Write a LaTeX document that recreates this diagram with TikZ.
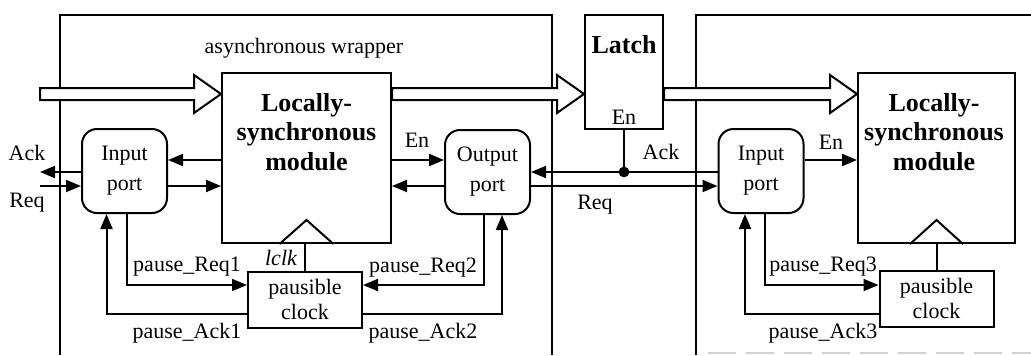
\documentclass[tikz,border=0pt]{standalone}
\usepackage{fontspec}
\setmainfont{Liberation Serif}
\usepackage{tikz}
\usetikzlibrary{calc,positioning,arrows.meta}

\newcommand{\lblfont}{\fontsize{11}{15}\selectfont}
\newcommand{\clkfont}{\fontsize{11}{12.5}\selectfont}
\newcommand{\modfont}{\fontsize{13}{14.75}\selectfont\bfseries}

\tikzset{
  wire/.style={line width=1pt},
  sig/.style={line width=1pt, -{Triangle[length=7.5pt,width=6pt]}},
  blk/.style={draw, line width=1pt, inner sep=0pt},
  portbox/.style={blk, rounded corners=7.5pt, minimum width=42.5pt, minimum height=42pt, align=center, font=\lblfont},
  clkbox/.style={blk, minimum width=57pt, minimum height=28pt, align=center, font=\clkfont},
  bus/.style={draw, line width=1pt, fill=white, line join=miter},
  lbl/.style={font=\lblfont, inner sep=1pt},
  modtxt/.style={font=\modfont, align=center, inner sep=0pt}
}

\begin{document}
\begin{tikzpicture}[x=0.5pt,y=-0.5pt]
\useasboundingbox (0,0) rectangle (1031,355);
% the two wrappers, open at the bottom
\draw[wire] (60,355) -- (60,15) -- (552,15) -- (552,355);
\draw[wire] (696,355) -- (696,15) -- (1031,15);
\draw[gray!35, line width=0.7pt, dash pattern=on 14pt off 5pt] (708,353) -- (1031,353);
\node[lbl] (wraptxt) at (304,48) {asynchronous wrapper};

% blocks
\node[blk, minimum width=84.5pt, minimum height=85pt] (lsmL) at (306.5,158) {};
\node[blk, minimum width=78.5pt, minimum height=85pt] (lsmR) at (936.5,158) {};
\node[modtxt] (lsmLt) at (306.5,132) {Locally-\\synchronous\\module};
\node[modtxt] (lsmRt) at (934,132) {Locally-\\synchronous\\module};
\node[blk, minimum width=39pt, minimum height=57pt] (latch) at (624,72) {};
\node[modtxt] (latchtxt) at (624,45) {Latch};
\node[lbl] (latchen) at (624,117) {En};
\node[portbox] (inL) at (124.5,171) {Input\\port};
\node[portbox] (outL) at (487.5,172) {Output\\port};
\node[portbox] (inR) at (761,171) {Input\\port};
\node[clkbox] (clkL) at (305,299.5) {pausible\\clock};
\node[clkbox] (clkR) at (936.5,298.5) {pausible\\clock};

% signal levels
\coordinate (yBus) at (0,94);
\coordinate (yUp) at (0,160);
\coordinate (yAck) at (0,172);
\coordinate (yReq) at (0,186);
\coordinate (yPR) at (0,285);
\coordinate (yPA) at (0,314);

% data buses
\coordinate (b1s) at (40,94);
\coordinate (b1e) at (lsmL.west |- yBus);
\coordinate (b2s) at (lsmL.east |- yBus);
\coordinate (b2e) at (latch.west |- yBus);
\coordinate (b3s) at (latch.east |- yBus);
\coordinate (b3e) at (lsmR.west |- yBus);
\foreach \s/\e in {b1s/b1e, b2s/b2e, b3s/b3e}{
  \draw[bus] ($(\s)+(0,-6)$) -- ($(\e)+(-27,-6)$) -- ($(\e)+(-27,-19)$) -- (\e)
    -- ($(\e)+(-27,19)$) -- ($(\e)+(-27,6)$) -- ($(\s)+(0,6)$) -- cycle;
}

% clock inputs
\draw[wire] ($(lsmL.south)+(-27,0)$) -- ($(lsmL.south)+(0,-24)$) -- ($(lsmL.south)+(27,0)$);
\draw[wire] ($(lsmR.south)+(-26.5,0)$) -- ($(lsmR.south)+(0,-24)$) -- ($(lsmR.south)+(26.5,0)$);
\draw[wire] (clkL.north) -- (clkL.north |- lsmL.south);
\draw[wire] (clkR.north) -- (clkR.north |- lsmR.south);
\node[lbl, font=\lblfont\itshape] (lclk) at (281,258) {lclk};

% left handshake
\coordinate (ackL) at (40,172);
\coordinate (reqL) at (40,186);
\draw[sig] (inL.west |- yAck) -- (ackL);
\draw[sig] (reqL) -- (inL.west |- yReq);
\node[lbl] at (27,153) {Ack};
\node[lbl] at (27,203) {Req};

% port <-> module
\draw[sig] (lsmL.west |- yUp) -- (inL.east |- yUp);
\draw[sig] (inL.east |- yReq) -- (lsmL.west |- yReq);
\draw[sig] (lsmL.east |- yUp) -- (outL.west |- yUp);
\draw[sig] (outL.west |- yReq) -- (lsmL.east |- yReq);
\draw[sig] (inR.east |- yUp) -- (lsmR.west |- yUp);
\node[lbl] at (417,140) {En};
\node[lbl] at (831,142) {En};

% channel between the wrappers
\coordinate (tap) at (latch.south |- yAck);
\draw[sig] (inR.west |- yAck) -- (outL.east |- yAck);
\draw[sig] (outL.east |- yReq) -- (inR.west |- yReq);
\draw[wire] (latch.south) -- (tap);
\fill (tap) circle (2.7pt);
\node[lbl] at (661,152) {Ack};
\node[lbl] at (595,205) {Req};

% pause handshakes
\draw[sig] ([xshift=1pt]inL.south) |- (clkL.west |- yPR);
\draw[sig] (clkL.west |- yPA) -| ([xshift=-9pt]inL.south);
\draw[sig] ([xshift=-1.75pt]outL.south) |- (clkL.east |- yPR);
\draw[sig] (clkL.east |- yPA) -| ([xshift=7.25pt]outL.south);
\draw[sig] ([xshift=2pt]inR.south) |- (clkR.west |- yPR);
\draw[sig] (clkR.west |- yPA) -| ([xshift=-8pt]inR.south);
\node[lbl] at (187,267) {pause\_Req1};
\node[lbl] at (187,333) {pause\_Ack1};
\node[lbl] at (423,268) {pause\_Req2};
\node[lbl] at (423,333) {pause\_Ack2};
\node[lbl] at (823,267) {pause\_Req3};
\node[lbl] at (823,333) {pause\_Ack3};
\end{tikzpicture}
\end{document}
